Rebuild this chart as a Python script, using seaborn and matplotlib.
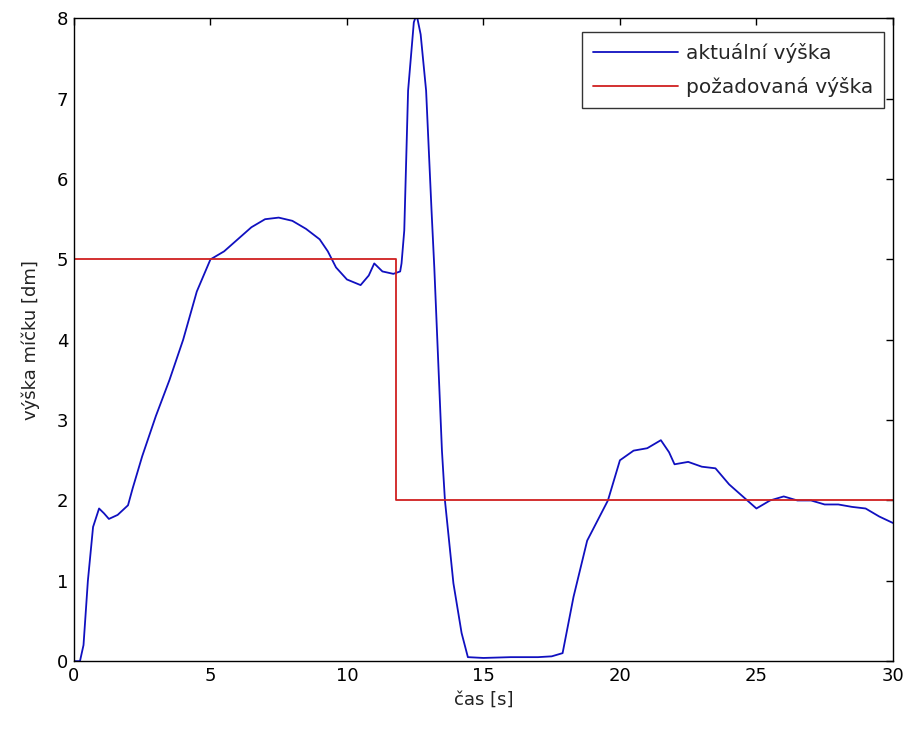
import matplotlib.pyplot as plt
import pandas as pd
import seaborn as sns

t_act = [0.0, 0.22, 0.35, 0.51, 0.7, 0.92, 1.1, 1.28, 1.6, 1.98, 2.15, 2.5,
         3.0, 3.5, 4.0, 4.5, 5.0, 5.5, 6.0, 6.5, 7.0, 7.5, 8.0, 8.5, 9.0,
         9.3, 9.6, 10.0, 10.5, 10.8, 11.0, 11.3, 11.7, 11.95, 12.0, 12.1,
         12.24, 12.45, 12.55, 12.7, 12.9, 13.1, 13.2, 13.48, 13.59, 13.9,
         14.2, 14.43, 15.0, 16.0, 17.0, 17.5, 17.9, 18.3, 18.8, 19.56, 20.0,
         20.5, 21.0, 21.5, 21.8, 22.0, 22.5, 23.0, 23.5, 24.0, 24.5, 25.0,
         25.5, 26.0, 26.5, 27.0, 27.5, 28.0, 28.5, 29.0, 29.5, 30.0]
h_act = [0.0, 0.0, 0.2, 1.0, 1.67, 1.9, 1.84, 1.77, 1.82, 1.94, 2.15, 2.55,
         3.05, 3.5, 4.0, 4.6, 5.0, 5.1, 5.25, 5.4, 5.5, 5.52, 5.48, 5.38,
         5.25, 5.1, 4.9, 4.75, 4.68, 4.8, 4.95, 4.85, 4.82, 4.85, 4.95, 5.36,
         7.1, 7.95, 8.05, 7.8, 7.1, 5.6, 4.9, 2.62, 2.0, 0.97, 0.35, 0.05,
         0.04, 0.05, 0.05, 0.06, 0.1, 0.8, 1.5, 2.0, 2.5, 2.62, 2.65, 2.75,
         2.6, 2.45, 2.48, 2.42, 2.4, 2.2, 2.05, 1.9, 2.0, 2.05, 2.0, 2.0,
         1.95, 1.95, 1.92, 1.9, 1.8, 1.72]

# reference height
t_ref = [0.0, 11.8, 11.8, 30.0]
h_ref = [5.0, 5.0, 2.0, 2.0]

df_act = pd.DataFrame({'t': t_act, 'h': h_act})
df_ref = pd.DataFrame({'t': t_ref, 'h': h_ref})

sns.set_style("white")
plt.rcParams['font.family'] = ['DejaVu Sans']
plt.rcParams['xtick.direction'] = 'in'
plt.rcParams['ytick.direction'] = 'in'

fig = plt.figure(figsize=(9.13, 7.33), dpi=100)
ax = fig.add_axes([0.081, 0.098, 0.897, 0.877])

sns.lineplot(data=df_act, x='t', y='h', ax=ax, color='#1010c0',
             linewidth=1.3, sort=False, estimator=None, label='aktuální výška')
sns.lineplot(data=df_ref, x='t', y='h', ax=ax, color='#d02020',
             linewidth=1.3, sort=False, estimator=None, label='požadovaná výška')

ax.set_xlim(0, 30)
ax.set_ylim(0, 8)
ax.set_xticks(range(0, 31, 5))
ax.set_yticks(range(0, 9))
ax.tick_params(top=True, right=True, length=5, width=1, labelsize=13,
               colors='black', pad=4)
for s in ax.spines.values():
    s.set_color('black')
    s.set_linewidth(1)
ax.set_xlabel('čas [s]', fontsize=13, color='#222222')
ax.set_ylabel('výška míčku [dm]', fontsize=13, color='#222222', labelpad=12)

leg = ax.legend(loc='upper right', fontsize=14.5, frameon=True, fancybox=False,
                edgecolor='black', bbox_to_anchor=(884 / 913, 1 - 32 / 733),
                bbox_transform=fig.transFigure, borderaxespad=0,
                handlelength=4.2, handletextpad=0.4, labelspacing=0.7,
                borderpad=0.55)
leg.get_frame().set_linewidth(1)

fig.savefig('out.png', dpi=100)
